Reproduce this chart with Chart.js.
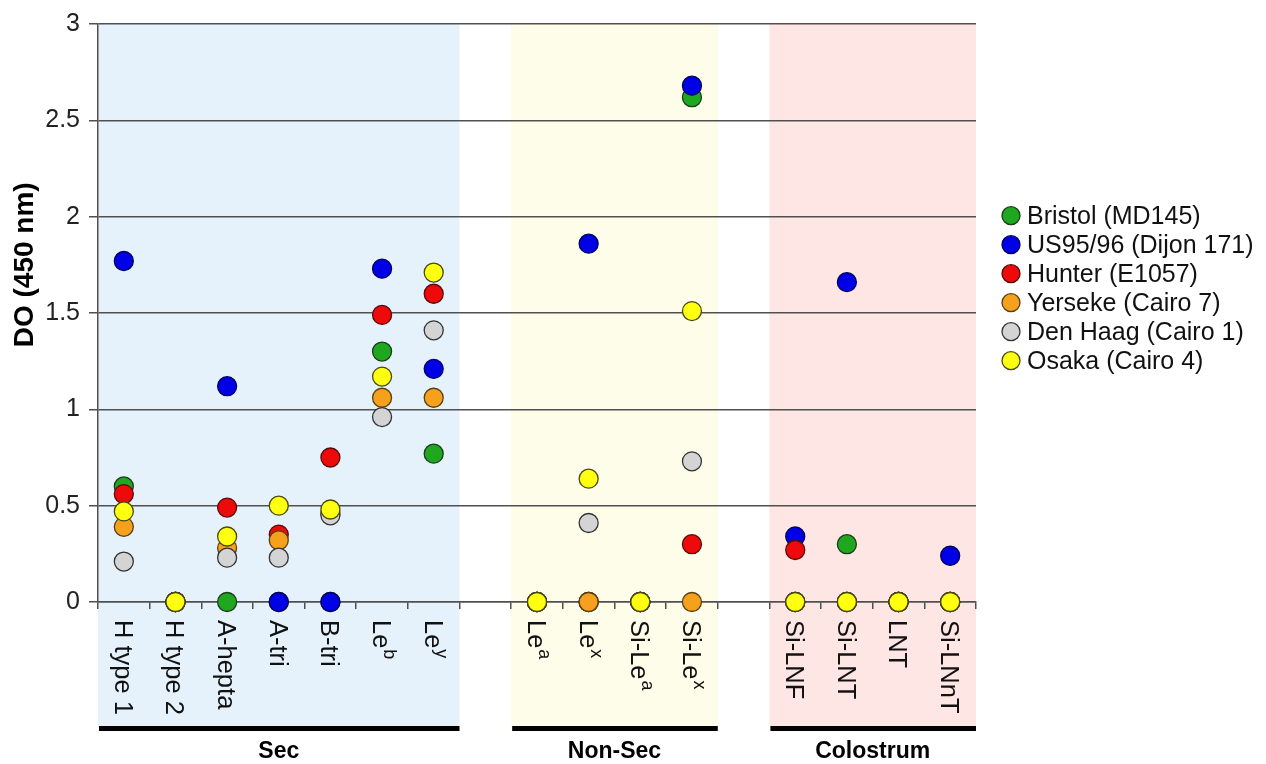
<!DOCTYPE html>
<html>
<head>
<meta charset="utf-8">
<script src="https://cdn.jsdelivr.net/npm/chart.js@4/dist/chart.umd.min.js"></script>
<style>
  html, body { margin: 0; padding: 0; background: #fff; }
  #wrap { width: 1266px; height: 764px; position: relative; }
</style>
</head>
<body>
<div id="wrap"><canvas id="grafico"></canvas></div>
<script>
// categorias (o "^" marca o expoente); '' = espaço entre os grupos
const categorias = ['H type 1', 'H type 2', 'A-hepta', 'A-tri', 'B-tri', 'Le^b', 'Le^y', '',
                    'Le^a', 'Le^x', 'Si-Le^a', 'Si-Le^x', '',
                    'Si-LNF', 'Si-LNT', 'LNT', 'Si-LNnT'];

const grupos = ['Sec', 'Non-Sec', 'Colostrum'];
const grupoInicio = [0, 8, 13];
const grupoFim = [6, 11, 16];
const grupoCores = ['#e5f2fc', '#fdfde9', '#fde6e4'];

const yTicks = [0, 0.5, 1, 1.5, 2, 2.5, 3];

// valores de DO (450 nm)
const bristol = [0.60, 0, 0,    0,    0,    1.30, 0.77, null, 0, 0,    0, 2.62, null, 0,    0.30, 0, 0];
const us9596  = [1.77, 0, 1.12, 0,    0,    1.73, 1.21, null, 0, 1.86, 0, 2.68, null, 0.34, 1.66, 0, 0.24];
const hunter  = [0.56, 0, 0.49, 0.35, 0.75, 1.49, 1.60, null, 0, 0,    0, 0.30, null, 0.27, 0,    0, 0];
const yerseke = [0.39, 0, 0.28, 0.32, 0.46, 1.06, 1.06, null, 0, 0,    0, 0,    null, 0,    0,    0, 0];
const denHaag = [0.21, 0, 0.23, 0.23, 0.45, 0.96, 1.41, null, 0, 0.41, 0, 0.73, null, 0,    0,    0, 0];
const osaka   = [0.47, 0, 0.34, 0.50, 0.48, 1.17, 1.71, null, 0, 0.64, 0, 1.51, null, 0,    0,    0, 0];

const nomes = ['Bristol (MD145)', 'US95/96 (Dijon 171)', 'Hunter (E1057)', 'Yerseke (Cairo 7)', 'Den Haag (Cairo 1)', 'Osaka (Cairo 4)'];
const series = [bristol, us9596, hunter, yerseke, denHaag, osaka];
const cores = ['#1fa81f', '#0000e6', '#ee0a0a', '#f6a11d', '#d4d4d4', '#ffff10'];
const bordas = ['#1c3a1c', '#00005c', '#5a0a0a', '#5a4010', '#333333', '#4a4a10'];

const FONTE = "'Liberation Sans', Arial, sans-serif";
const LINHA = '#505050';

const datasets = series.map((s, i) => ({
    label: nomes[i],
    data: s,
    showLine: false,
    pointRadius: 9.5,
    pointHoverRadius: 9.5,
    pointBackgroundColor: cores[i],
    pointBorderColor: bordas[i],
    pointBorderWidth: 1.3,
    backgroundColor: cores[i],
    borderColor: bordas[i],
    order: series.length - i, // o último (Osaka) fica por cima
    clip: false
}));

// faixas de fundo dos grupos
const faixas = {
    id: 'faixas',
    beforeDraw(chart) {
        const ctx = chart.ctx, x = chart.scales.x, area = chart.chartArea;
        const meio = (x.getPixelForValue(1) - x.getPixelForValue(0)) / 2;
        ctx.save();
        grupos.forEach((g, i) => {
            const esq = x.getPixelForValue(grupoInicio[i]) - meio;
            const dir = x.getPixelForValue(grupoFim[i]) + meio;
            ctx.fillStyle = grupoCores[i];
            ctx.fillRect(esq, area.top, dir - esq, 726 - area.top);
        });
        ctx.restore();
    }
};

// rótulos girados, barras pretas, nomes dos grupos, título do eixo e legenda
const extras = {
    id: 'extras',
    afterDraw(chart) {
        const ctx = chart.ctx, x = chart.scales.x, y = chart.scales.y, area = chart.chartArea;
        const meio = (x.getPixelForValue(1) - x.getPixelForValue(0)) / 2;
        ctx.save();

        // rótulos das categorias (lidos de cima para baixo)
        ctx.fillStyle = '#111';
        categorias.forEach((c, i) => {
            if (!c) return;
            const partes = c.split('^');
            ctx.save();
            ctx.translate(x.getPixelForValue(i) - 2, area.bottom + 18);
            ctx.rotate(Math.PI / 2);
            ctx.textAlign = 'left';
            ctx.textBaseline = 'middle';
            ctx.font = '25.5px ' + FONTE;
            ctx.fillText(partes[0], 0, 0);
            if (partes[1]) {
                const w = ctx.measureText(partes[0]).width;
                ctx.font = '18px ' + FONTE;
                ctx.fillText(partes[1], w + 1, -9);
            }
            ctx.restore();
        });

        // barras e nomes dos grupos
        grupos.forEach((g, i) => {
            const esq = x.getPixelForValue(grupoInicio[i]) - meio;
            const dir = x.getPixelForValue(grupoFim[i]) + meio;
            ctx.fillStyle = '#000';
            ctx.fillRect(esq + 1, 726, dir - esq - 1, 5);
            ctx.font = 'bold 23px ' + FONTE;
            ctx.textAlign = 'center';
            ctx.textBaseline = 'middle';
            ctx.fillText(g, (esq + dir) / 2, 752);
        });

        // título do eixo Y
        ctx.save();
        ctx.translate(25, y.getPixelForValue(1.75));
        ctx.rotate(-Math.PI / 2);
        ctx.font = 'bold 28px ' + FONTE;
        ctx.textAlign = 'center';
        ctx.textBaseline = 'middle';
        ctx.fillStyle = '#000';
        ctx.fillText('DO (450 nm)', 0, 0);
        ctx.restore();

        // legenda
        const topo = y.getPixelForValue(2) - 1;
        nomes.forEach((n, i) => {
            const cy = topo + i * 29;
            ctx.beginPath();
            ctx.arc(area.right + 35, cy, 9, 0, Math.PI * 2);
            ctx.fillStyle = cores[i];
            ctx.fill();
            ctx.lineWidth = 1.3;
            ctx.strokeStyle = bordas[i];
            ctx.stroke();
            ctx.fillStyle = '#111';
            ctx.font = '25px ' + FONTE;
            ctx.textAlign = 'left';
            ctx.textBaseline = 'middle';
            ctx.fillText(n, area.right + 51, cy + 1);
        });

        ctx.restore();
    }
};

new Chart(document.getElementById('grafico'), {
    type: 'line',
    data: { labels: categorias, datasets: datasets },
    options: {
        responsive: true,
        maintainAspectRatio: false,
        animation: false,
        events: [],
        layout: { padding: { top: 22, right: 290, left: 0, bottom: 0 } },
        plugins: {
            legend: { display: false },
            tooltip: { enabled: false }
        },
        scales: {
            x: {
                type: 'category',
                offset: true,
                afterFit(scale) { scale.height = 162; },
                grid: {
                    display: true,
                    offset: true,
                    drawOnChartArea: false,
                    drawTicks: true,
                    tickLength: 7,
                    color: LINHA,
                    lineWidth: 1.5
                },
                border: { display: true, color: LINHA, width: 1.5 },
                ticks: { display: false }
            },
            y: {
                min: 0,
                max: 3,
                afterFit(scale) { scale.width = 98; },
                afterBuildTicks(scale) { scale.ticks = yTicks.map(v => ({ value: v })); },
                grid: {
                    color: LINHA,
                    lineWidth: 1.5,
                    drawTicks: true,
                    tickLength: 9
                },
                border: { display: true, color: LINHA, width: 1.5 },
                ticks: {
                    padding: 9,
                    color: '#222',
                    font: { family: FONTE, size: 25 },
                    callback: v => String(v)
                }
            }
        }
    },
    plugins: [faixas, extras]
});
</script>
</body>
</html>
